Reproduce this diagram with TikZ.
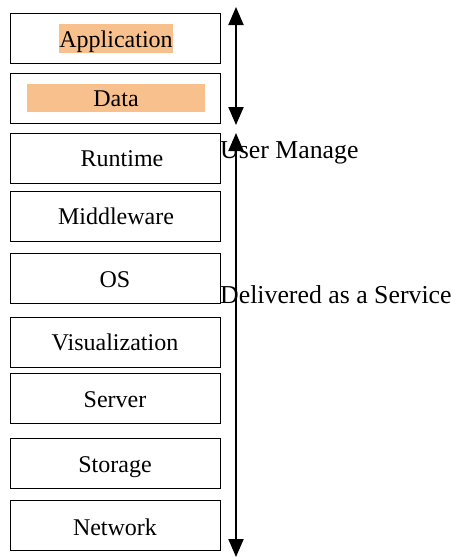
\documentclass[tikz,border=0pt]{standalone}
\usepackage{fontspec}
\setmainfont{Liberation Serif}
\usetikzlibrary{arrows.meta}
\definecolor{peach}{RGB}{248,192,140}
\begin{document}
\begin{tikzpicture}[x=1pt,y=-1pt,
  layer/.style={draw,line width=1.4pt,minimum width=210pt,minimum height=50pt,inner sep=0pt,anchor=north west},
  boxtext/.style={font=\fontsize{24}{28}\selectfont,inner sep=0pt,anchor=base},
  lbl/.style={font=\fontsize{25.8}{30}\selectfont,inner sep=0pt,anchor=base west},
  dbl/.style={line width=2pt,{Triangle[width=15pt,length=18pt]}-{Triangle[width=15pt,length=18pt]}}]
\useasboundingbox (0,0) rectangle (452,557);
% highlights
\fill[peach] (59,24) rectangle (173,53);
\fill[peach] (27,84) rectangle (205,112);
% boxes
\node[layer] (app) at (10,13) {};
\node[layer] (data) at (10,73) {};
\node[layer] (run) at (10,133) {};
\node[layer] (mid) at (10,191) {};
\node[layer] (os) at (10,253) {};
\node[layer] (vis) at (10,317) {};
\node[layer] (srv) at (10,373) {};
\node[layer] (sto) at (10,438) {};
\node[layer] (net) at (10,500) {};
% texts
\node[boxtext] (tapp) at (116,47) {Application};
\node[boxtext] (tdata) at (116,106) {Data};
\node[boxtext] (trun) at (122,166) {Runtime};
\node[boxtext] (tmid) at (116,224) {Middleware};
\node[boxtext] (tos) at (115,287) {OS};
\node[boxtext] (tvis) at (115,350) {Visualization};
\node[boxtext] (tsrv) at (115,407) {Server};
\node[boxtext] (tsto) at (115,472) {Storage};
\node[boxtext] (tnet) at (115,535) {Network};
% labels
\node[lbl] (user) at (220,158) {User Manage};
\node[lbl] (deliv) at (220,303) {Delivered as a Service};
% arrows
\coordinate (a1t) at (236,7);
\coordinate (a1b) at (236,125);
\coordinate (a2t) at (236,133);
\coordinate (a2b) at (236,557);
\draw[dbl] (a1t) -- (a1b);
\draw[dbl] (a2t) -- (a2b);
\end{tikzpicture}
\end{document}
